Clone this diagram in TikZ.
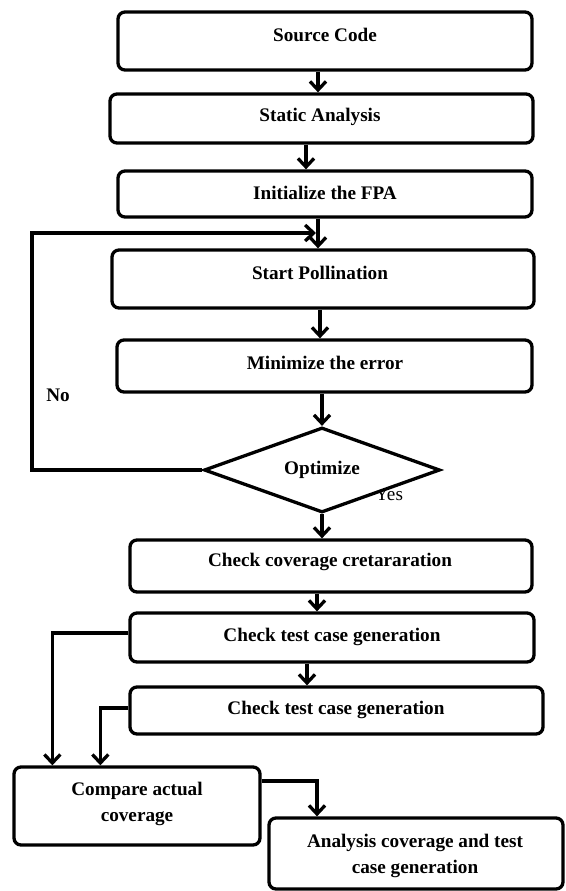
\documentclass[tikz,border=0pt]{standalone}
\usepackage{fontspec}
\setmainfont{Liberation Serif}
\usetikzlibrary{arrows.meta,shapes.geometric}
\begin{document}
\begin{tikzpicture}[x=1pt,y=-1pt,line width=3.3pt,
  box/.style={draw,rounded corners=7pt,inner sep=0pt,fill=white},
  lbl/.style={font=\fontsize{19.2}{26}\selectfont\bfseries,inner sep=0pt,align=center},
  plain/.style={font=\fontsize{19.2}{26}\selectfont,inner sep=0pt},
  arr/.style={-{Straight Barb[length=8.5pt,width=16pt]}}]
\useasboundingbox (0,0) rectangle (565,891);
% boxes
\node[box,minimum width=414pt,minimum height=58pt] (src) at (325,41) {};
\node[lbl] (srct) at (325,35) {Source Code};
\node[box,minimum width=423pt,minimum height=49pt] (sa) at (321.5,118.5) {};
\node[lbl] (sat) at (320,117) {Static Analysis};
\node[box,minimum width=414pt,minimum height=46pt] (init) at (325,194) {};
\node[lbl] (initt) at (325,193) {Initialize the FPA};
\node[box,minimum width=422pt,minimum height=58pt] (sp) at (323,279) {};
\node[lbl] (spt) at (320,273) {Start Pollination};
\node[box,minimum width=415pt,minimum height=52pt] (mn) at (324.5,366) {};
\node[lbl] (mnt) at (325,363) {Minimize the error};
\node[plain] (yes) at (389,494) {Yes};
\node[draw,diamond,fill=white,inner sep=0pt,aspect=2.76,minimum width=236pt,minimum height=85pt,
      font=\fontsize{19.2}{22}\selectfont\bfseries] (dia) at (322,470) {Optimize};
\node[lbl] (no) at (58,395) {No};
\node[box,minimum width=402pt,minimum height=52pt] (cc) at (331,566) {};
\node[lbl] (cct) at (330,562) {Check coverage cretararation};
\node[box,minimum width=404pt,minimum height=49pt] (ct1) at (332,637.5) {};
\node[lbl] (ct1t) at (332,637) {Check test case generation};
\node[box,minimum width=413pt,minimum height=47pt] (ct2) at (336.5,710.5) {};
\node[lbl] (ct2t) at (336,710) {Check test case generation};
\node[box,minimum width=246pt,minimum height=78pt] (cmp) at (137,806) {};
\node[lbl] (cmpt) at (137,804) {Compare actual\\coverage};
\node[box,minimum width=294pt,minimum height=71pt] (ana) at (416,853.5) {};
\node[lbl] (anat) at (415,856) {Analysis coverage and test\\case generation};
% connectors
\draw[arr] ([xshift=-7pt]src.south) -- ([xshift=-7pt]src.south |- sa.north);
\draw[arr] ([xshift=-15.5pt]sa.south) -- ([xshift=-15.5pt]sa.south |- init.north);
\draw[arr] ([xshift=-7pt]init.south) -- ([xshift=-7pt]init.south |- sp.north);
\draw[arr] ([xshift=-3pt]sp.south) -- ([xshift=-3pt]sp.south |- mn.north);
\draw[arr] ([xshift=-2.5pt]mn.south) -- (dia.north);
\coordinate (lp) at (316,233);
\draw[arr] (dia.west) -| (32,233) -- (lp);
\draw[arr] (dia.south) -- (dia.south |- cc.north);
\draw[arr] ([xshift=-14pt]cc.south) -- ([xshift=-14pt]cc.south |- ct1.north);
\draw[arr] ([xshift=-25pt]ct1.south) -- ([xshift=-25pt]ct1.south |- ct2.north);
\draw[arr] ([yshift=4.5pt]ct1.west) -| ([xshift=40pt]cmp.north west);
\draw[arr] ([yshift=2.5pt]ct2.west) -| ([xshift=88pt]cmp.north west);
\draw[arr] ([yshift=25pt]cmp.east) -| ([xshift=-99pt]ana.north);
\end{tikzpicture}
\end{document}
